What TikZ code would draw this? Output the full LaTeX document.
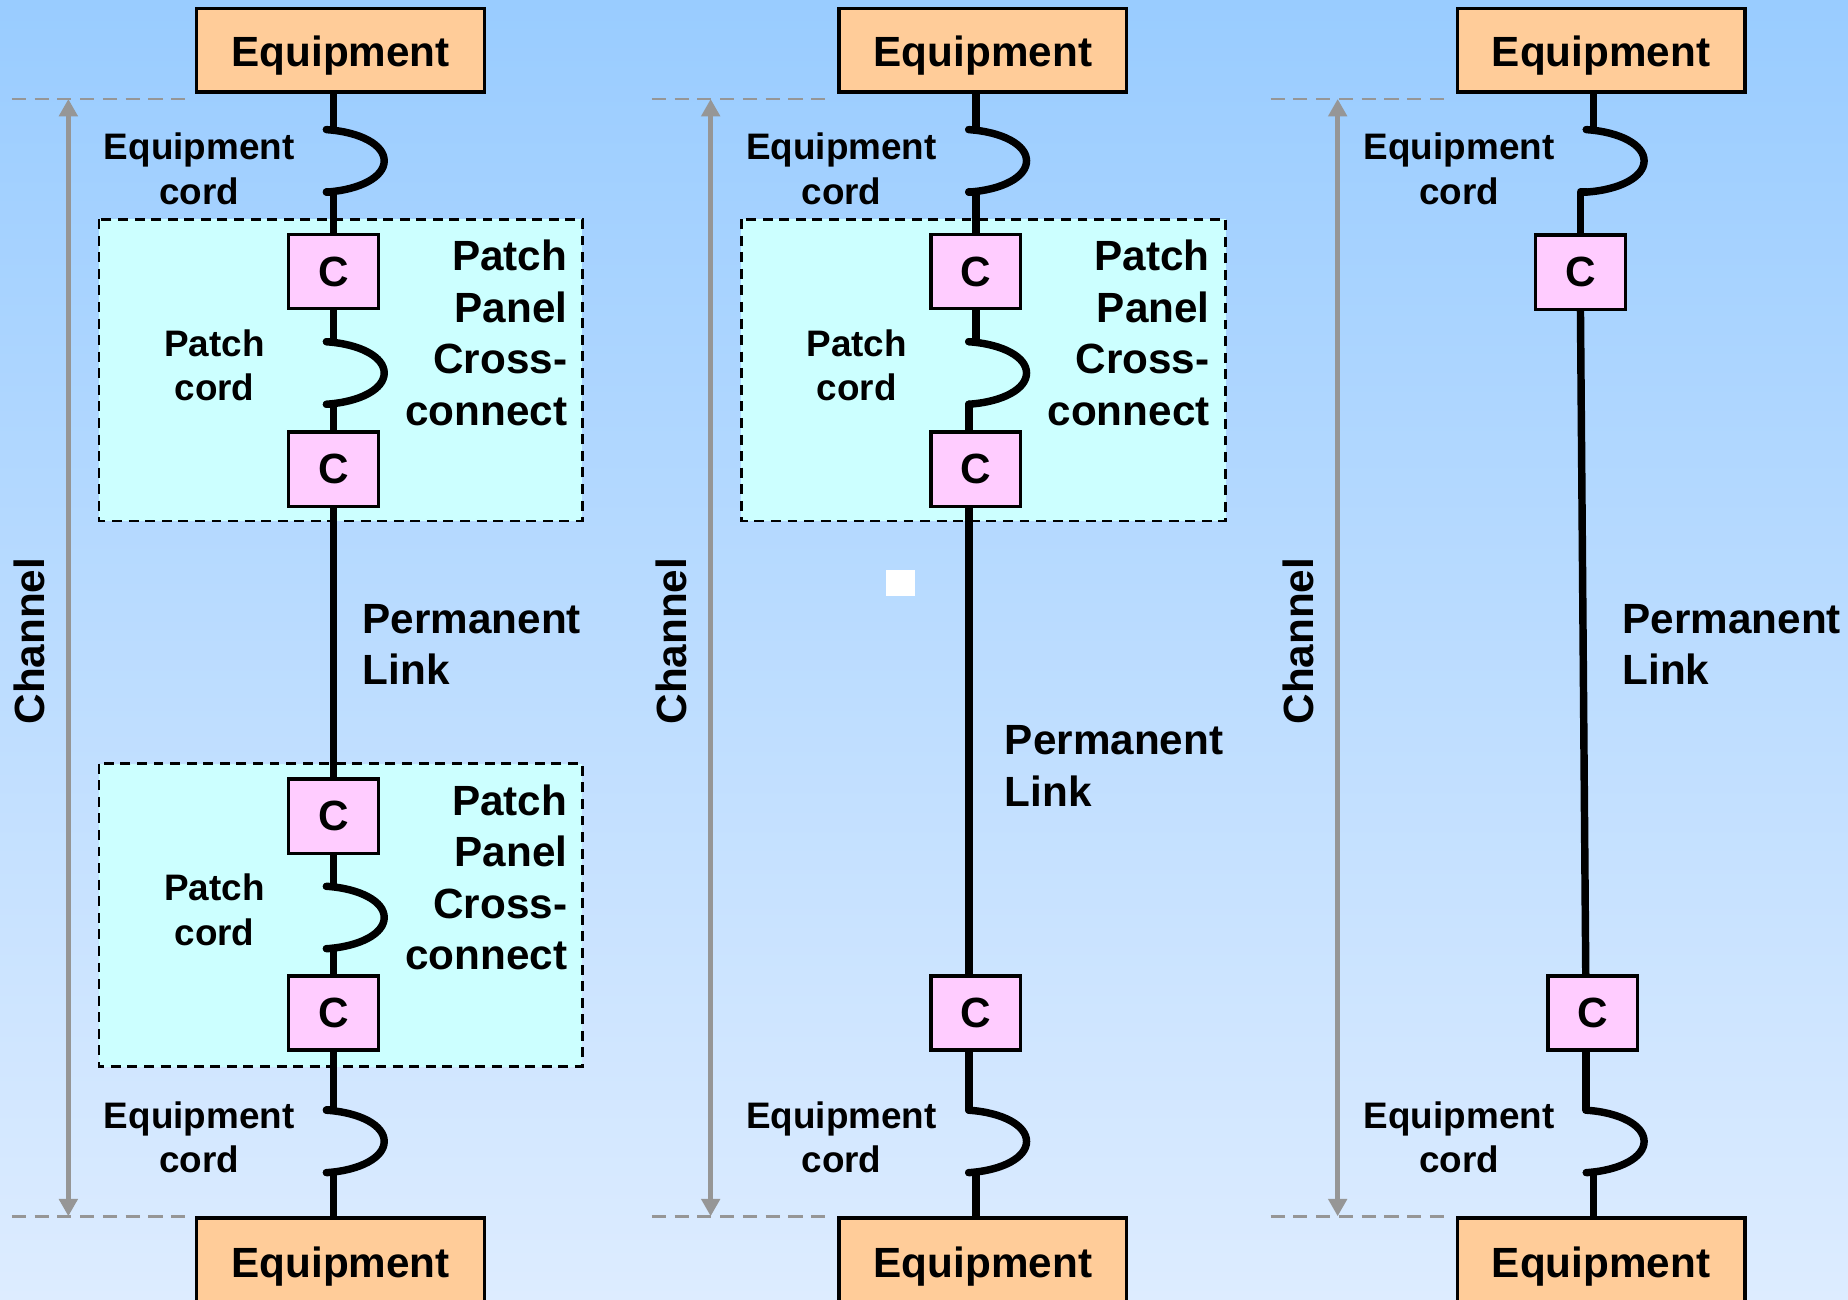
\documentclass[tikz,border=0pt]{standalone}
\usepackage{fontspec}
\setmainfont{Liberation Sans}
\usepackage{tikz}
\usetikzlibrary{
  arrows.meta,
  positioning,
  backgrounds
}
\definecolor{skytop}{RGB}{153,204,255}
\definecolor{skybot}{RGB}{221,236,255}
\definecolor{eqpeach}{RGB}{255,204,153}
\definecolor{cpink}{RGB}{255,204,255}
\definecolor{panelcyan}{RGB}{204,255,255}
\definecolor{guidegray}{RGB}{150,150,150}
\newcommand{\bigtxt}{\fontsize{10.2}{12.4}\selectfont\bfseries}
\newcommand{\smalltxt}{\fontsize{8.9}{10.8}\selectfont\bfseries}

\begin{document}
\begin{tikzpicture}[x=0.1mm, y=-0.1mm,
  equip/.style={draw, line width=0.8pt, fill=eqpeach, minimum width=24.4mm,
    minimum height=7.1mm, inner sep=0pt, text height=3.5mm, text depth=0.7mm, font=\bigtxt},
  conn/.style={draw, line width=0.8pt, fill=cpink, minimum width=7.6mm,
    minimum height=6.3mm, inner sep=0pt, font=\bigtxt},
  panel/.style={draw, line width=0.65pt, dash pattern=on 2.4pt off 1.6pt, fill=panelcyan},
  cable/.style={line width=1.8pt, line cap=round, line join=round},
  guide/.style={guidegray, line width=0.6pt, dash pattern=on 3.4pt off 2.1pt},
  span/.style={guidegray, line width=1.3pt,
    {Triangle[length=4.2pt,width=4.4pt]}-{Triangle[length=4.2pt,width=4.4pt]}},
  bigl/.style={inner sep=0pt, font=\bigtxt},
  smalll/.style={inner sep=0pt, font=\smalltxt, align=center}
]
  \useasboundingbox (0,0) rectangle (1568,1103);
  \clip (0,0) rectangle (1568,1103);

  % column A: channel with two cross-connects
  \node[equip] (eqAt) at (289,42.5) {Equipment};
  \node[conn] (cA1) at (283,230.5) {C};
  \node[conn] (cA2) at (283,398) {C};
  \node[conn] (cA3) at (283,692.5) {C};
  \node[conn] (cA4) at (283,859.5) {C};
  \node[equip, anchor=north, minimum height=7.3mm] (eqAb) at (289,1032) {Equipment};
  \node[smalll] (ecA1) at (169,143) {Equipment\\cord};
  \node[smalll] (ecA2) at (169,965) {Equipment\\cord};
  \node[smalll] (pcA1) at (182,310) {Patch\\cord};
  \node[smalll] (pcA2) at (182,772) {Patch\\cord};
  \node[bigl, align=right, anchor=east] (ppA1) at (482,282.5) {Patch\\Panel\\Cross-\\connect};
  \node[bigl, align=right, anchor=east] (ppA2) at (482,744.5) {Patch\\Panel\\Cross-\\connect};
  \node[bigl, align=left, anchor=west] (plA) at (307,547) {Permanent\\Link};
  \node[bigl, rotate=90] (chA) at (25,544) {Channel};

  % column B: one cross-connect
  \node[equip] (eqBt) at (834,42.5) {Equipment};
  \node[conn] (cB1) at (828,230.5) {C};
  \node[conn] (cB2) at (828,398) {C};
  \node[conn] (cB3) at (828,859.5) {C};
  \node[equip, anchor=north, minimum height=7.3mm] (eqBb) at (834,1032) {Equipment};
  \node[smalll] (ecB1) at (714,143) {Equipment\\cord};
  \node[smalll] (ecB2) at (714,965) {Equipment\\cord};
  \node[smalll] (pcB) at (727,310) {Patch\\cord};
  \node[bigl, align=right, anchor=east] (ppB) at (1027,282.5) {Patch\\Panel\\Cross-\\connect};
  \node[bigl, align=left, anchor=west] (plB) at (852,650) {Permanent\\Link};
  \node[bigl, rotate=90] (chB) at (570,544) {Channel};

  % column C: direct link
  \node[equip] (eqCt) at (1358.5,42.5) {Equipment};
  \node[conn] (cC1) at (1341,231) {C};
  \node[conn] (cC2) at (1351.5,859.5) {C};
  \node[equip, anchor=north, minimum height=7.3mm] (eqCb) at (1358.5,1032) {Equipment};
  \node[smalll] (ecC1) at (1238,143) {Equipment\\cord};
  \node[smalll] (ecC2) at (1238,965) {Equipment\\cord};
  \node[bigl, align=left, anchor=west] (plC) at (1376,547) {Permanent\\Link};
  \node[bigl, rotate=90] (chC) at (1102,544) {Channel};

  \begin{scope}[on background layer]
    \shade[top color=skytop, bottom color=skybot] (0,0) rectangle (1568,1103);
    \fill[white] (752,484) rectangle (776,506);
    \draw[panel] (84,186) rectangle (494,442);
    \draw[panel] (84,648) rectangle (494,905);
    \draw[panel] (629,186) rectangle (1040,442);

    \foreach \x/\l/\r/\i in {58/10/160/A, 603/553/701/B, 1135/1078/1230/C} {
      \coordinate (chtop\i) at (\x,84);
      \coordinate (chbot\i) at (\x,1032);
      \draw[guide] (\l,84) -- (\r,84);
      \draw[guide] (\l,1032) -- (\r,1032);
      \draw[span] (chbot\i) -- (chtop\i);
    }

    % cord loops
    \foreach \x/\y/\n in {277/110/ta, 277/290/pa, 277/752/pb, 277/942/ba,
                          822/110/tb, 822/290/pc, 822/942/bb,
                          1346/110/tc, 1346/942/bc}
      \draw[cable] (\x,\y) coordinate (\n1)
        .. controls (\x+29,\y+2) and (\x+49,\y+13) .. (\x+49,\y+26.5)
        .. controls (\x+49,\y+40) and (\x+29,\y+51) .. (\x,\y+53) coordinate (\n2);

    % column A cabling
    \draw[cable] ([xshift=-0.6mm]eqAt.south) |- (ta1);
    \draw[cable] (ta2) -| (cA1.north);
    \draw[cable] (cA1.south) |- (pa1);
    \draw[cable] (pa2) -| (cA2.north);
    \draw[cable] (cA2.south) -- (cA3.north);
    \draw[cable] (cA3.south) |- (pb1);
    \draw[cable] (pb2) -| (cA4.north);
    \draw[cable] (cA4.south) |- (ba1);
    \draw[cable] (ba2) -| ([xshift=-0.6mm]eqAb.north);

    % column B cabling
    \draw[cable] ([xshift=-0.6mm]eqBt.south) |- (tb1);
    \draw[cable] (tb2) -| (cB1.north);
    \draw[cable] (cB1.south) |- (pc1);
    \draw[cable] (pc2) -- (pc2 |- cB2.north);
    \draw[cable] (cB2.south -| pc2) -- (cB3.north -| pc2);
    \draw[cable] (cB3.south -| bb1) -- (bb1);
    \draw[cable] (bb2) -| ([xshift=-0.6mm]eqBb.north);

    % column C cabling
    \draw[cable] ([xshift=-0.65mm]eqCt.south) |- (tc1);
    \draw[cable] (tc2) -| (cC1.north);
    \draw[cable] (cC1.south) -- ([xshift=-0.6mm]cC2.north);
    \draw[cable] ([xshift=-0.6mm]cC2.south) |- (bc1);
    \draw[cable] (bc2) -| ([xshift=-0.65mm]eqCb.north);
  \end{scope}
\end{tikzpicture}
\end{document}
